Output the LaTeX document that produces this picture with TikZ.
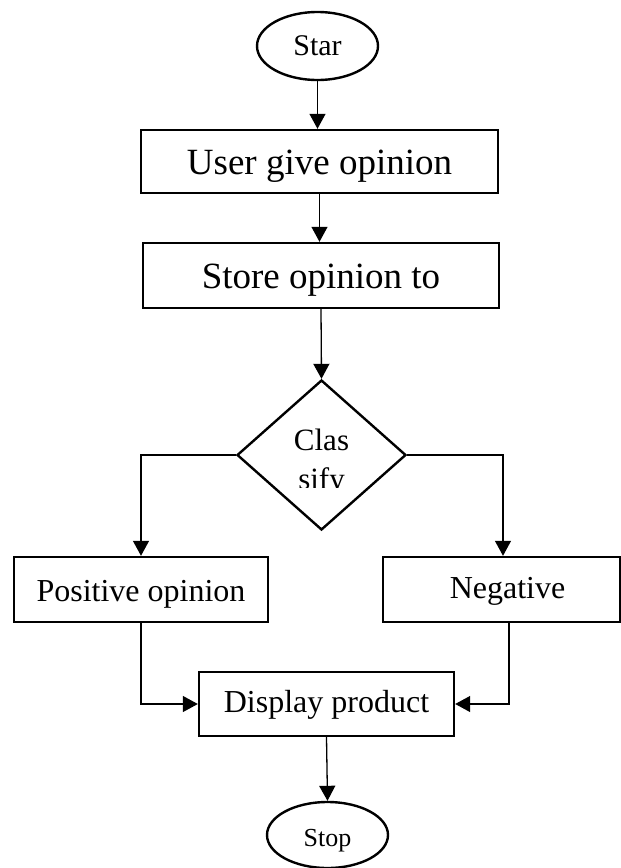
\documentclass[tikz,border=0pt]{standalone}
\usepackage{fontspec}
\setmainfont{Liberation Serif}
\usetikzlibrary{arrows.meta,shapes.geometric}
\tikzset{
  boxnode/.style={draw=black,line width=2.4pt,rectangle,inner sep=0pt,align=center,text depth=0pt},
  termnode/.style={draw=black,line width=2.4pt,ellipse,inner sep=0pt,text depth=0pt},
  decnode/.style={draw=black,line width=2.4pt,diamond,inner sep=0pt},
  conn/.style={draw=black,line width=1.3pt,-{Triangle[length=15pt,width=16pt]}},
  bigtext/.style={font=\fontsize{37}{44}\selectfont,text height=26pt},
  midtext/.style={font=\fontsize{32}{38}\selectfont,text height=22pt},
}
\begin{document}
\begin{tikzpicture}[x=1pt,y=-1pt]
\useasboundingbox (0,0) rectangle (621,868);
\fill[white] (0,0) rectangle (621,868);
% terminals
\node[termnode,minimum width=121pt,minimum height=68pt,font=\fontsize{30}{36}\selectfont,text height=18pt] (star) at (317.5,46) {Star};
\node[termnode,minimum width=121pt,minimum height=66pt,font=\fontsize{26}{31}\selectfont,text height=22pt] (stop) at (327.5,835) {Stop};
% process boxes
\node[boxnode,bigtext,minimum width=357pt,minimum height=63pt] (user) at (319.5,161.5) {User give opinion};
\node[boxnode,bigtext,minimum width=356pt,minimum height=65pt] (store) at (321,275.5) {Store opinion to};
% decision
\node[decnode,minimum width=169pt,minimum height=150pt] (dia) at (321.5,455) {};
\begin{scope}
  \clip (230,400) rectangle (420,487.5);
  \node[anchor=base,inner sep=0pt,font=\fontsize{31}{40}\selectfont] (cls1) at (321.5,450.5) {Clas};
  \node[anchor=base,inner sep=0pt,font=\fontsize{31}{40}\selectfont] (cls2) at (321.5,489.5) {sify};
\end{scope}
% outcome boxes
\node[boxnode,midtext,text height=24pt,minimum width=254pt,minimum height=65pt] (pos) at (141,589.5) {Positive opinion};
\node[boxnode,midtext,text height=17pt,minimum width=237pt,minimum height=65pt] (neg) at (501.5,589.5) {\hspace*{12pt}Negative};
\node[boxnode,midtext,text height=17pt,minimum width=255pt,minimum height=64pt] (disp) at (326.5,704) {Display product};
% connectors
\draw[conn] (star.south) -- (star.south |- user.north);
\draw[conn] (user.south) -- (user.south |- store.north);
\draw[conn] (store.south) -- (dia.north);
\draw[conn] (dia.west) -| (pos.north);
\draw[conn] (dia.east) -| ([xshift=1.5pt]neg.north);
\draw[conn] (pos.south) |- (disp.west);
\draw[conn] ([xshift=7.5pt]neg.south) |- (disp.east);
\draw[conn] (disp.south) -- (stop.north);
\end{tikzpicture}
\end{document}
